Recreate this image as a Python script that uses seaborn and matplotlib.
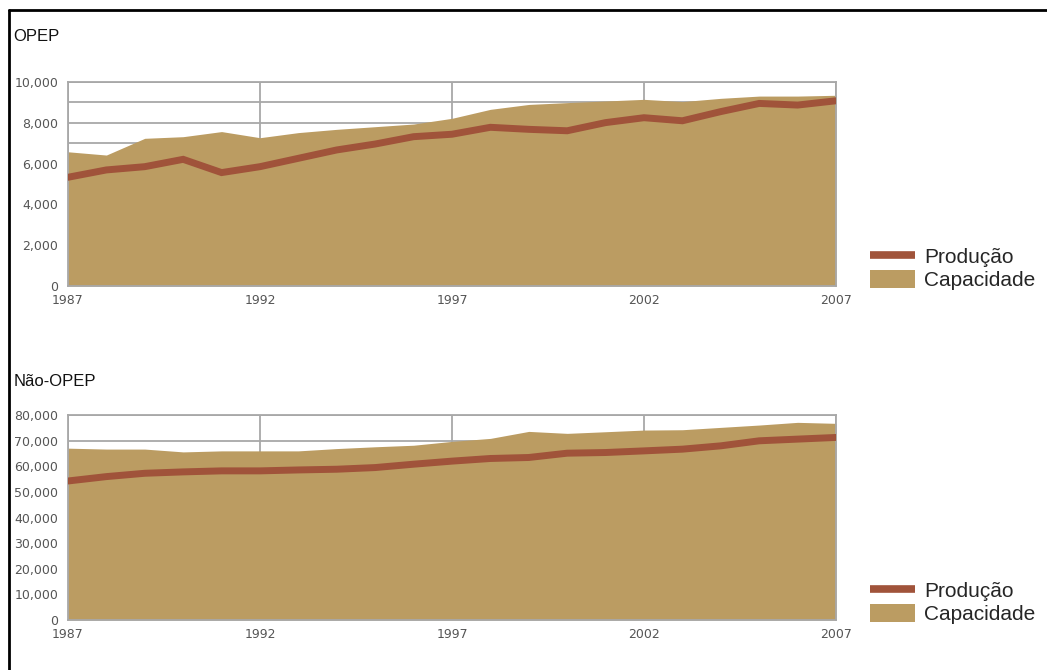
import numpy as np
import pandas as pd
import matplotlib
matplotlib.use("Agg")
import matplotlib.pyplot as plt
import matplotlib.ticker as mticker
from matplotlib.lines import Line2D
from matplotlib.patches import Patch
import seaborn as sns

years = list(range(1987, 2008))

# OPEP (mil barris/dia)
opep_producao = [5330, 5690, 5850, 6210, 5560, 5850, 6260, 6670, 6960, 7320, 7440,
                 7780, 7680, 7610, 8010, 8250, 8100, 8550, 8950, 8870, 9080]
opep_capacidade = [6580, 6420, 7240, 7320, 7570, 7270, 7520, 7680, 7810, 7940, 8220,
                   8660, 8900, 8990, 9070, 9150, 9040, 9200, 9310, 9310, 9350]

# Nao-OPEP
nopep_producao = [54250, 55960, 57260, 57800, 58200, 58200, 58560, 58840, 59490, 60800, 62000,
                  63030, 63420, 65100, 65360, 66000, 66670, 67970, 69930, 70590, 71240]
nopep_capacidade = [67060, 66700, 66700, 65600, 66000, 66000, 66000, 66900, 67600, 68200, 69700,
                    70870, 73600, 72830, 73470, 74120, 74250, 75170, 76080, 77130, 76740]

titles = ["OPEP", "Não-OPEP"]
series_names = ["Produção", "Capacidade"]

COL_LINE = "#A0533A"
COL_FILL = "#BB9C62"
COL_GRID = "#A8A8A8"

sns.set_theme(style="white")
plt.rcParams["font.family"] = ["DejaVu Sans"]

fig = plt.figure(figsize=(10.47, 6.70), dpi=100)

panels = [
    (opep_producao, opep_capacidade, 10000, 2000, 1000, [0.0649, 0.5731, 0.7336, 0.3045], 0.945),
    (nopep_producao, nopep_capacidade, 80000, 10000, 10000, [0.0649, 0.0746, 0.7336, 0.3060], 0.430),
]

for (prod, cap, ymax, ystep, gstep, rect, title_y), title in zip(panels, titles):
    df = pd.DataFrame({"ano": years, "producao": prod, "capacidade": cap})
    ax = fig.add_axes(rect)
    ax.set_axisbelow(True)

    ax.fill_between(df["ano"], 0, df["capacidade"], color=COL_FILL, lw=0, zorder=1)
    sns.lineplot(data=df, x="ano", y="producao", ax=ax, color=COL_LINE, lw=5,
                 solid_joinstyle="miter", zorder=3)

    ax.set_xlim(1987, 2007)
    ax.set_ylim(0, ymax)
    ax.set_xticks([1987, 1992, 1997, 2002, 2007])
    ax.set_yticks(np.arange(0, ymax + 1, ystep))
    ax.set_yticks(np.arange(0, ymax + 1, gstep), minor=True)
    ax.yaxis.set_major_formatter(mticker.FuncFormatter(lambda v, p: f"{int(v):,}"))
    ax.set_xlabel("")
    ax.set_ylabel("")

    ax.grid(True, which="both", axis="y", color=COL_GRID, lw=1.3)
    ax.grid(True, which="major", axis="x", color=COL_GRID, lw=1.3)
    ax.tick_params(axis="both", which="both", length=0, labelsize=9, labelcolor="#555555")
    ax.tick_params(axis="y", pad=7)
    ax.tick_params(axis="x", pad=6)
    for s in ax.spines.values():
        s.set_color(COL_GRID)
        s.set_linewidth(1.3)
        s.set_visible(True)

    handles = [Line2D([0], [0], color=COL_LINE, lw=5.5, solid_capstyle="butt"),
               Patch(facecolor=COL_FILL, edgecolor="none")]
    ax.legend(handles, series_names, loc="lower left", bbox_to_anchor=(1.044, -0.02),
              frameon=False, borderpad=0, borderaxespad=0, handlelength=2.15,
              handleheight=0.95, handletextpad=0.45, labelspacing=0.15,
              prop={"family": "Liberation Sans", "size": 15})

    fig.text(0.013, title_y, title, fontsize=12, family="Liberation Sans",
             color="#111111", va="center", ha="left")

# moldura parcial (esquerda e topo)
fig.add_artist(Line2D([0.0086, 0.0086], [0, 0.985], color="black", lw=2, transform=fig.transFigure))
fig.add_artist(Line2D([0.0086, 1.0], [0.985, 0.985], color="black", lw=2, transform=fig.transFigure))

fig.savefig("out.png", dpi=100, facecolor="white")
